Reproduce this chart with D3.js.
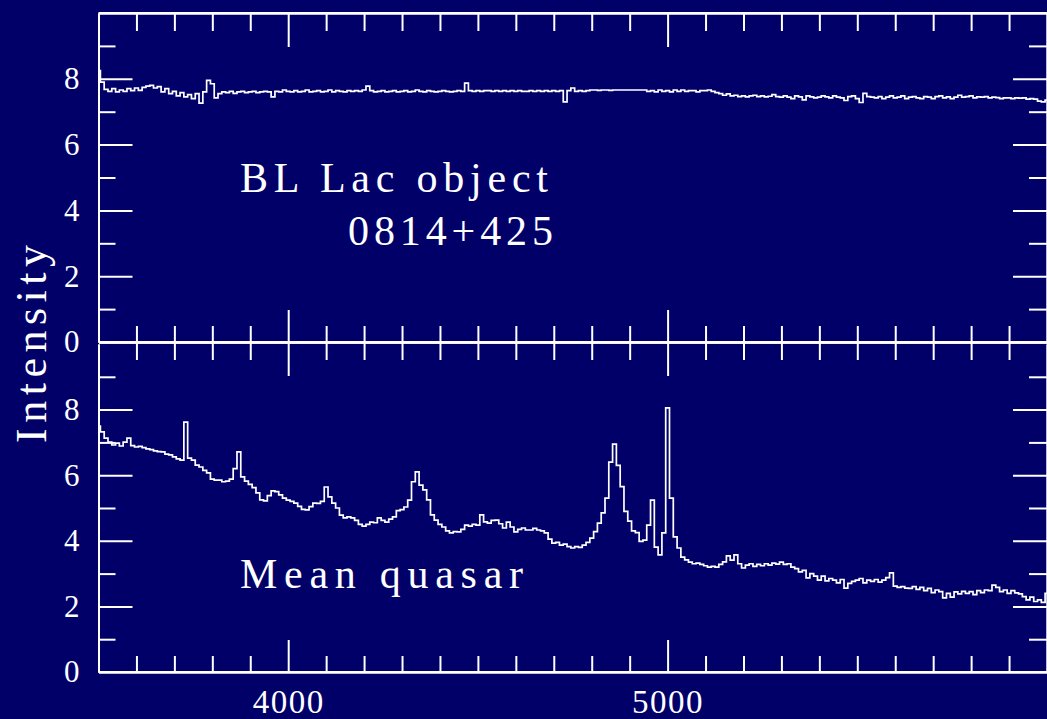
<!DOCTYPE html>
<html><head><meta charset="utf-8">
<script src="https://cdn.jsdelivr.net/npm/d3@7"></script>
<style>html,body{margin:0;padding:0;background:#000068;overflow:hidden}</style>
</head><body>
<svg id="c" width="1047" height="719"></svg>
<script>
// ---- data ----
const wavelengths = d3.range(3500, 6001, 10); // 3500..6000 Å, 10 Å bins

const blLacValues = [
  8.25,7.90,7.68,7.62,7.70,7.60,7.66,7.62,7.70,7.64,
  7.72,7.65,7.74,7.78,7.80,7.72,7.76,7.60,7.70,7.55,
  7.62,7.48,7.58,7.45,7.52,7.40,7.55,7.26,7.60,7.95,
  7.85,7.42,7.55,7.60,7.58,7.62,7.56,7.60,7.62,7.58,
  7.60,7.62,7.58,7.60,7.62,7.60,7.45,7.62,7.60,7.66,
  7.62,7.60,7.64,7.60,7.62,7.66,7.60,7.62,7.64,7.60,
  7.62,7.66,7.60,7.64,7.62,7.60,7.64,7.62,7.64,7.62,
  7.66,7.78,7.64,7.60,7.62,7.64,7.60,7.62,7.64,7.60,
  7.62,7.64,7.60,7.62,7.66,7.62,7.60,7.64,7.62,7.60,
  7.62,7.64,7.62,7.60,7.62,7.64,7.62,7.87,7.64,7.62,
  7.64,7.62,7.64,7.64,7.62,7.64,7.62,7.64,7.62,7.64,
  7.62,7.64,7.62,7.62,7.64,7.62,7.64,7.62,7.64,7.62,
  7.64,7.62,7.64,7.30,7.64,7.72,7.62,7.64,7.62,7.64,
  7.66,7.66,7.65,7.66,7.66,7.65,7.66,7.66,7.66,7.66,
  7.66,7.66,7.66,7.66,7.66,7.62,7.64,7.60,7.66,7.62,
  7.64,7.60,7.66,7.62,7.66,7.62,7.64,7.64,7.60,7.64,
  7.64,7.66,7.62,7.58,7.55,7.50,7.54,7.48,7.50,7.46,
  7.48,7.45,7.48,7.50,7.46,7.48,7.45,7.47,7.52,7.46,
  7.44,7.48,7.44,7.40,7.48,7.45,7.36,7.48,7.45,7.42,
  7.44,7.48,7.45,7.42,7.48,7.44,7.42,7.34,7.46,7.48,
  7.40,7.28,7.56,7.46,7.44,7.42,7.46,7.40,7.44,7.48,
  7.42,7.44,7.48,7.40,7.44,7.46,7.42,7.40,7.46,7.44,
  7.40,7.46,7.48,7.42,7.45,7.40,7.44,7.50,7.44,7.46,
  7.48,7.42,7.45,7.44,7.46,7.42,7.44,7.43,7.40,7.42,
  7.42,7.40,7.42,7.41,7.42,7.38,7.40,7.38,7.32,7.30,
  7.35
];

const quasarValues = [
  7.50,7.32,7.13,7.01,6.92,6.98,6.89,7.01,7.13,6.90,
  6.86,6.88,6.84,6.80,6.78,6.74,6.72,6.71,6.64,6.62,
  6.56,6.50,6.46,7.62,6.52,6.46,6.31,6.25,6.15,6.07,
  5.88,5.85,5.85,5.80,5.82,5.88,6.20,6.71,5.95,5.82,
  5.72,5.62,5.46,5.25,5.22,5.38,5.52,5.50,5.40,5.30,
  5.24,5.20,5.15,5.05,4.96,4.94,5.04,5.15,5.14,5.20,
  5.64,5.34,5.15,5.00,4.78,4.70,4.73,4.70,4.62,4.50,
  4.45,4.50,4.57,4.55,4.70,4.62,4.57,4.66,4.73,4.92,
  4.95,5.03,5.24,5.80,6.10,5.70,5.55,5.25,4.79,4.63,
  4.50,4.42,4.30,4.24,4.28,4.27,4.35,4.48,4.45,4.50,
  4.48,4.79,4.58,4.54,4.62,4.63,4.52,4.39,4.57,4.42,
  4.27,4.35,4.39,4.33,4.33,4.38,4.33,4.30,4.24,4.05,
  3.93,3.95,3.87,3.90,3.82,3.78,3.82,3.80,3.87,3.95,
  4.08,4.28,4.54,4.85,5.30,6.40,6.95,6.30,5.65,4.90,
  4.60,4.30,4.25,3.98,4.02,4.48,5.24,3.81,3.57,4.24,
  8.05,5.30,4.12,3.78,3.50,3.42,3.35,3.30,3.32,3.28,
  3.24,3.20,3.22,3.20,3.28,3.36,3.54,3.41,3.57,3.30,
  3.17,3.26,3.30,3.22,3.28,3.24,3.30,3.26,3.32,3.29,
  3.35,3.28,3.30,3.20,3.15,3.05,3.10,2.87,3.00,2.92,
  2.80,2.92,2.78,2.85,2.80,2.72,2.82,2.56,2.70,2.76,
  2.80,2.85,2.72,2.80,2.76,2.82,2.74,2.80,2.88,3.02,
  2.62,2.58,2.60,2.56,2.55,2.60,2.52,2.58,2.48,2.55,
  2.42,2.50,2.45,2.26,2.40,2.28,2.44,2.38,2.46,2.40,
  2.45,2.36,2.48,2.42,2.50,2.48,2.65,2.58,2.45,2.50,
  2.40,2.48,2.41,2.38,2.30,2.20,2.28,2.15,2.20,2.12,
  2.40
];

const xMajorTicks = [4000, 5000];
const xMinorTicks = [3600,3700,3800,3900,4100,4200,4300,4400,4500,4600,4700,4800,4900,
                     5100,5200,5300,5400,5500,5600,5700,5800,5900];
const yMajorTicks = [0, 2, 4, 6, 8];
const yMinorTicks = [1, 3, 5, 7, 9];
const topLabels = ["BL Lac object", "0814+425"];
const bottomLabels = ["Mean quasar"];
const yTitle = "Intensity";

// ---- layout ----
const FG = "#ffffff";
const FONT = "'Liberation Serif', 'DejaVu Serif', serif";
const svg = d3.select("#c");
svg.append("rect").attr("width",1047).attr("height",719).attr("fill","#000068");

const L = 98.5, R = 1047, T = 13, M = 342, B = 672;
const x = d3.scaleLinear().domain([3500, 6000]).range([L, R]);
const panels = [
  {y: d3.scaleLinear().domain([0, 10]).range([M, T]), top: T, bot: M, data: blLacValues, labelX: false},
  {y: d3.scaleLinear().domain([0, 10]).range([B, M + 2]), top: M, bot: B, data: quasarValues, labelX: true}
];

function styleAxis(g) {
  g.selectAll("path.domain").attr("stroke", FG).attr("stroke-width", 2);
  g.selectAll(".tick line").attr("stroke", FG).attr("stroke-width", 2);
  g.selectAll("text").attr("fill", FG).attr("font-family", FONT);
}

panels.forEach(p => {
  // bottom edge ticks (pointing up)
  const gb1 = svg.append("g").attr("transform", `translate(0,${p.bot})`)
    .call(d3.axisBottom(x).tickValues(xMinorTicks).tickSize(-16).tickSizeOuter(0).tickFormat(""));
  styleAxis(gb1);
  const gb2 = svg.append("g").attr("transform", `translate(0,${p.bot})`)
    .call(d3.axisBottom(x).tickValues(xMajorTicks).tickSize(-32).tickSizeOuter(0)
      .tickPadding(18).tickFormat(p.labelX ? d3.format("d") : ""));
  styleAxis(gb2);
  gb2.selectAll("text").attr("font-size", 33).attr("letter-spacing", 1.5);
  // top edge ticks (pointing down)
  const gt1 = svg.append("g").attr("transform", `translate(0,${p.top})`)
    .call(d3.axisTop(x).tickValues(xMinorTicks).tickSize(-18).tickSizeOuter(0).tickFormat(""));
  styleAxis(gt1);
  const gt2 = svg.append("g").attr("transform", `translate(0,${p.top})`)
    .call(d3.axisTop(x).tickValues(xMajorTicks).tickSize(-34).tickSizeOuter(0).tickFormat(""));
  styleAxis(gt2);
  // left ticks
  const gl1 = svg.append("g").attr("transform", `translate(${L},0)`)
    .call(d3.axisLeft(p.y).tickValues(yMinorTicks).tickSize(-17).tickSizeOuter(0).tickFormat(""));
  styleAxis(gl1);
  const gl2 = svg.append("g").attr("transform", `translate(${L},0)`)
    .call(d3.axisLeft(p.y).tickValues(yMajorTicks).tickSize(-34).tickSizeOuter(0)
      .tickPadding(19).tickFormat(d3.format("d")));
  styleAxis(gl2);
  gl2.selectAll("text").attr("font-size", 31);
  gl2.selectAll(".tick").filter(d => d === 0).select("line").remove();
  // right ticks
  const gr1 = svg.append("g").attr("transform", `translate(${R},0)`)
    .call(d3.axisRight(p.y).tickValues(yMinorTicks).tickSize(-18).tickSizeOuter(0).tickFormat(""));
  styleAxis(gr1);
  const gr2 = svg.append("g").attr("transform", `translate(${R},0)`)
    .call(d3.axisRight(p.y).tickValues(yMajorTicks.filter(v => v > 0)).tickSize(-34).tickSizeOuter(0).tickFormat(""));
  styleAxis(gr2);

  // spectrum
  const line = d3.line()
    .x((d, i) => x(wavelengths[i]))
    .y(d => p.y(d))
    .curve(d3.curveStep);
  svg.append("path").datum(p.data)
    .attr("d", line)
    .attr("fill", "none")
    .attr("stroke", FG)
    .attr("stroke-width", 1.7)
    .attr("stroke-linejoin", "miter");
});

// frame lines at top/middle/bottom
[T, M, B].forEach(yy => {
  svg.append("line").attr("x1", L).attr("x2", R).attr("y1", yy).attr("y2", yy)
    .attr("stroke", FG).attr("stroke-width", 2);
});

// annotations
function note(text, xPos, yPos, len) {
  svg.append("text").attr("x", xPos).attr("y", yPos)
    .attr("fill", FG).attr("font-family", FONT).attr("font-size", 42)
    .attr("textLength", len).attr("lengthAdjust", "spacing")
    .text(text);
}
note(topLabels[0], 240, 192, 308);
note(topLabels[1], 348, 245, 205);
note(bottomLabels[0], 240, 588, 283);

svg.append("text")
  .attr("transform", "translate(46,344) rotate(-90)")
  .attr("text-anchor", "middle")
  .attr("fill", FG).attr("font-family", FONT).attr("font-size", 44)
  .attr("textLength", 198).attr("lengthAdjust", "spacing")
  .text(yTitle);
</script>
</body></html>
